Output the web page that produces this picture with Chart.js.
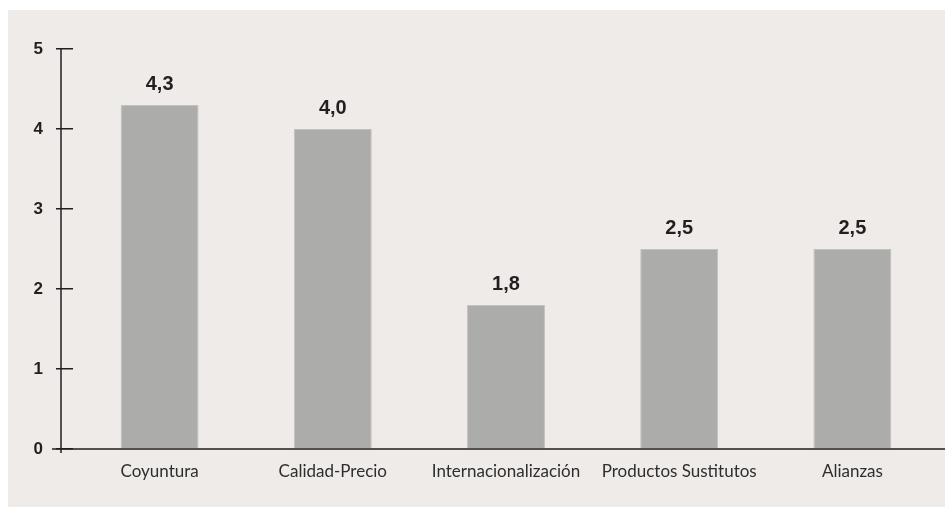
<!DOCTYPE html>
<html>
<head>
<meta charset="utf-8">
<script src="https://cdn.jsdelivr.net/npm/chart.js@4/dist/chart.umd.min.js"></script>
<style>
  html, body {
    margin: 0;
    padding: 0;
    background: #ffffff;
  }
  #wrap {
    width: 945px;
    height: 507px;
  }
</style>
</head>
<body>
<div id="wrap">
  <canvas id="chart"></canvas>
</div>
<script>
const categories = [
  'Coyuntura',
  'Calidad-Precio',
  'Internacionalización',
  'Productos Sustitutos',
  'Alianzas',
];

const values = [4.3, 4.0, 1.8, 2.5, 2.5];

const yTicks = [0, 1, 2, 3, 4, 5];

const axisColor = '#231f20';

// panel background
const panelPlugin = {
  id: 'panel',
  beforeDraw(chart) {
    const ctx = chart.ctx;
    ctx.save();
    ctx.fillStyle = '#efebe8';
    ctx.fillRect(8, 10, chart.width - 8, chart.height - 10);
    ctx.restore();
  },
};

// axis lines (y axis sits left of the bar area, x axis runs to the edge)
const axesPlugin = {
  id: 'axesLines',
  afterDraw(chart) {
    const ctx = chart.ctx;
    const y = chart.scales.y;
    const area = chart.chartArea;
    const axisX = area.left - 12;
    const zeroY = y.getPixelForValue(0);
    const topY = y.getPixelForValue(yTicks[yTicks.length - 1]);

    ctx.save();
    ctx.strokeStyle = axisColor;
    ctx.lineWidth = 1.5;
    ctx.beginPath();
    ctx.moveTo(axisX, topY);
    ctx.lineTo(axisX, zeroY + 4);
    ctx.moveTo(area.left - 21, zeroY);
    ctx.lineTo(chart.width, zeroY);
    ctx.stroke();
    ctx.restore();
  },
};

// value labels above bars
const valuePlugin = {
  id: 'values',
  afterDatasetsDraw(chart) {
    const ctx = chart.ctx;
    const meta = chart.getDatasetMeta(0);
    ctx.save();
    ctx.fillStyle = '#231f20';
    ctx.font = 'bold 20px "Liberation Sans", Arial, sans-serif';
    ctx.textAlign = 'center';
    ctx.textBaseline = 'alphabetic';
    meta.data.forEach((bar, i) => {
      ctx.fillText(
        values[i].toFixed(1).replace('.', ','),
        bar.x,
        bar.y - 15
      );
    });
    ctx.restore();
  },
};

new Chart(
  document.getElementById('chart'),
  {
    type: 'bar',
    data: {
      labels: categories,
      datasets: [
        {
          data: values,
          backgroundColor: '#acacaa',
          borderColor: '#c2c1bf',
          borderWidth: 1,
          borderSkipped: 'bottom',
          categoryPercentage: 1,
          barPercentage: 0.45,
        },
      ],
    },
    options: {
      responsive: true,
      maintainAspectRatio: false,
      animation: false,
      layout: {
        padding: {
          top: 49,
          right: 6,
          bottom: 0,
          left: 0,
        },
      },
      plugins: {
        legend: { display: false },
        tooltip: { enabled: false },
      },
      scales: {
        x: {
          afterFit: scale => {
            scale.height = 58;
          },
          border: { display: false },
          grid: {
            display: false,
            drawTicks: false,
          },
          ticks: {
            color: '#2e2e2e',
            padding: 12,
            font: {
              family: 'Lato, "Noto Sans", sans-serif',
              size: 17,
            },
          },
        },
        y: {
          min: 0,
          max: 5,
          afterFit: scale => {
            scale.width = 73;
          },
          afterBuildTicks: scale => {
            scale.ticks = yTicks.map(v => ({ value: v }));
          },
          border: { display: false },
          grid: {
            drawOnChartArea: false,
            drawTicks: true,
            tickLength: 17,
            color: axisColor,
            lineWidth: 1.5,
          },
          ticks: {
            color: '#231f20',
            padding: 13,
            font: {
              family: '"Liberation Sans", Arial, sans-serif',
              size: 17,
              weight: 'bold',
            },
          },
        },
      },
    },
    plugins: [panelPlugin, axesPlugin, valuePlugin],
  }
);
</script>
</body>
</html>
